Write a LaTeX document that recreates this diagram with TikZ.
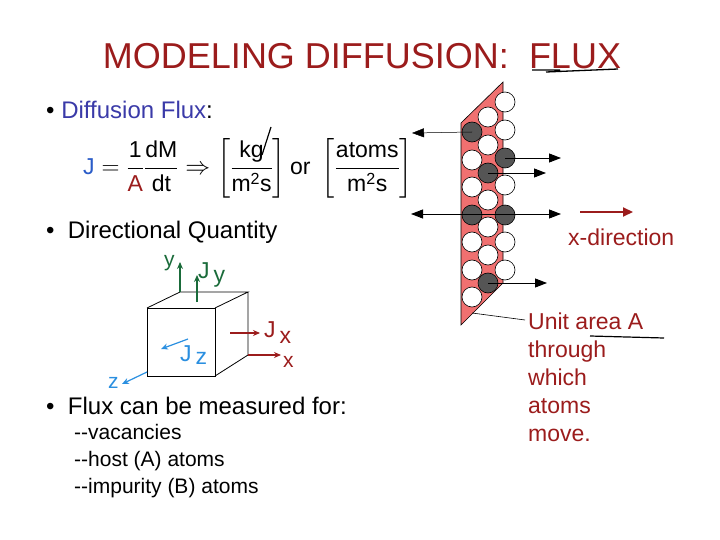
\documentclass[tikz,border=0pt]{standalone}
\usepackage{fontspec}
\setmainfont{Liberation Sans}
\usepackage{amsmath}
\usetikzlibrary{arrows.meta}
\definecolor{dred}{HTML}{9B1C1C}
\definecolor{tblue}{HTML}{3A3AA8}
\definecolor{jblue}{HTML}{2A5CC8}
\definecolor{dgreen}{HTML}{1A6B3A}
\definecolor{cyanb}{HTML}{2A8FE0}
\definecolor{plane}{HTML}{F07070}
\definecolor{dark}{HTML}{555555}
\begin{document}
\begin{tikzpicture}[x=1pt,y=-1pt,
  lbl/.style={inner sep=0pt,anchor=base west},
  wc/.style={draw=black,fill=white,line width=0.6pt},
  dc/.style={draw=black,fill=dark,line width=0.6pt},
  harr/.style={line width=0.9pt,-{Triangle[length=12pt,width=9pt]}},
  ax/.style={line width=1.2pt,-{Stealth[length=7pt,width=6pt]}}]
\useasboundingbox (0,0) rectangle (720,540);
% title
\node[lbl,anchor=base,font=\fontsize{36}{40}\selectfont,text=dred] (title) at (362,69) {MODELING DIFFUSION:\ \ FLUX};
\draw[line width=1.3pt] (532,70) -- (560,70) (546,72) -- (618,69);
% bullets
\node[lbl,font=\fontsize{24}{28}\selectfont] (b1) at (46,119) {• \color{tblue}Diffusion Flux\color{black}:};
\node[lbl,font=\fontsize{24}{28}\selectfont] (b2) at (46,239) {• \ Directional Quantity};
\node[lbl,font=\fontsize{24}{28}\selectfont] (b3) at (46,414) {• \ Flux can be measured for:};
\node[lbl,align=left,anchor=north west,font=\fontsize{21}{27}\selectfont] (list) at (74,424) {{-}{-}vacancies\\{-}{-}host (A) atoms\\{-}{-}impurity (B) atoms};
% formula
\node[lbl,anchor=west,font=\fontsize{23}{27}\selectfont] (formula) at (83,168) {%
$\color{jblue}\mathrm{J}\color{black}=\dfrac{\text{1}}{\text{\color{dred}A}}\dfrac{\text{dM}}{\text{dt}}\Rightarrow\left[\dfrac{\text{kg}}{\text{m}^{\text{2}}\text{s}}\right]\text{or}\;\left[\dfrac{\text{atoms}}{\text{m}^{\text{2}}\text{s}}\right]$};
\draw[line width=1.2pt] (262,155) -- (271,127);
% plane
\fill[plane,draw=black,line width=0.6pt] (461,123) -- (503,82) -- (503,283) -- (461,325) -- cycle;
\foreach \x/\y in {505/102,488/117,505/130,488/145,472/160,505/185,472/187,488/200,488/227,472/242,505/242,488/255,472/270,505/270,472/297}
  \draw[wc] (\x,\y) circle (10);
\foreach \x/\y in {472/132,505/158,488/173,472/215,505/215,488/283}
  \draw[dc] (\x,\y) circle (10);
\coordinate (a1) at (472,132); \coordinate (a1e) at (412,133);
\coordinate (a2) at (505,158); \coordinate (a2e) at (561,158);
\coordinate (a3) at (488,173); \coordinate (a3e) at (546,173);
\coordinate (a4) at (472,214); \coordinate (a4e) at (411,214);
\coordinate (a5) at (505,214); \coordinate (a5e) at (561,214);
\coordinate (a6) at (488,283); \coordinate (a6e) at (547,283);
\draw[harr,line width=0.5pt] (a1) -- (a1e);
\draw[harr] (a2) -- (a2e);
\draw[harr] (a3) -- (a3e);
\draw[harr] (a4) -- (a4e);
\draw[harr] (a4) -- (a5e);
\draw[harr] (a6) -- (a6e);
% x direction
\coordinate (xd1) at (580,212); \coordinate (xd2) at (633,212);
\draw[dred,line width=2pt,-{Triangle[length=10pt,width=9pt]}] (xd1) -- (xd2);
\node[lbl,font=\fontsize{23}{27}\selectfont,text=dred] (xdir) at (568,245) {x-direction};
\node[lbl,anchor=north west,align=left,font=\fontsize{23}{28}\selectfont,text=dred] (unit) at (528,313) {Unit area A\\through\\which\\atoms\\move.};
\coordinate (ul1) at (472,313); \coordinate (ul2) at (525,320);
\draw[line width=0.6pt] (ul1) -- (ul2);
\draw[line width=1.2pt] (590,336) -- (664,338);
% cube
\draw[line width=0.8pt] (147,308) rectangle (215,376);
\draw[line width=0.8pt] (147,308) -- (180,292) -- (248,292) -- (215,308) (248,292) -- (248,355) -- (215,376);
\draw[ax,dgreen] (180,292) -- (180,262);
\node[lbl,font=\fontsize{21}{24}\selectfont,text=dgreen] (ylab) at (164,266) {y};
\draw[ax,dgreen] (197,302) -- (197,275);
\node[lbl,font=\fontsize{23}{27}\selectfont,text=dgreen] (jy) at (198,278) {J\,\raisebox{-4pt}{y}};
\draw[ax,dred] (230,333) -- (260,333);
\node[lbl,font=\fontsize{23}{27}\selectfont,text=dred] (jx) at (264,337) {J\,\raisebox{-6pt}{x}};
\draw[ax,dred] (248,355) -- (281,355);
\node[lbl,font=\fontsize{21}{24}\selectfont,text=dred] (xlab) at (283,367) {x};
\draw[ax,cyanb] (188,339) -- (161,349);
\node[lbl,font=\fontsize{23}{27}\selectfont,text=cyanb] (jz) at (180,361) {J\,\raisebox{-3pt}{z}};
\draw[ax,cyanb] (147,372) -- (122,384);
\node[lbl,font=\fontsize{21}{24}\selectfont,text=cyanb] (zlab) at (108,388) {z};
\end{tikzpicture}
\end{document}
